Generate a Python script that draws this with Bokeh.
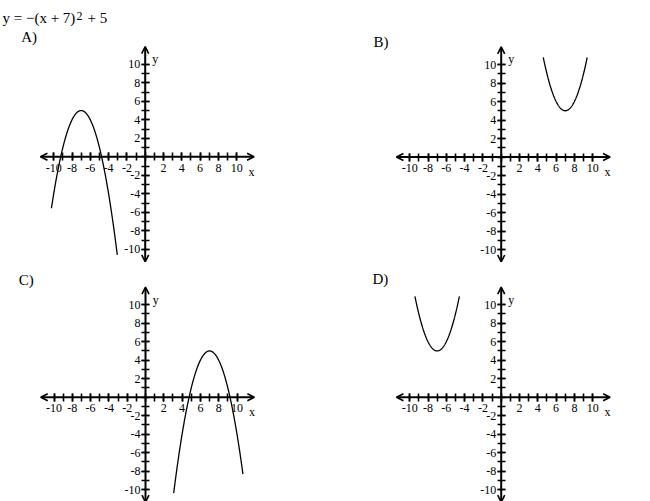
import numpy as np
from bokeh.plotting import figure
from bokeh.models import LinearAxis, FixedTicker, Arrow, OpenHead, Label, Range1d
from bokeh.layouts import column, row
from bokeh.embed import file_html
from bokeh.resources import INLINE

# ---------------- data ----------------
equation_main = "y = −(x + 7)"
equation_sup = "2"
equation_tail = "+ 5"
panel_names = ["A)", "B)", "C)", "D)"]
parabola_a = [-1, 1, -1, 1]          # sign / opening of each parabola
vertex_x = [-7, 7, 7, -7]
vertex_y = [5, 5, 5, 5]
curve_x_from = [-10.25, 4.6, 3.08, -9.43]
curve_x_to = [-3.05, 9.4, 10.65, -4.57]
tick_values = [-10, -8, -6, -4, -2, 2, 4, 6, 8, 10]
tick_labels = ["-10", "-8", "-6", "-4", "-2", "2", "4", "6", "8", "10"]
minor_tick_values = list(range(-10, 11))
axis_x_extent = [-11.45, 11.9]
axis_y_extent = [-11.35, 11.9]
x_axis_name = "x"
y_axis_name = "y"

# ---------------- layout (page pixels) ----------------
SX, SY = 9.15, 9.25
frames = [(0, 0, 356, 262), (356, 0, 650, 262), (0, 262, 356, 501), (356, 262, 650, 501)]
origins = [(144.7, 156.3), (500.7, 156.5), (145.0, 396.7), (500.7, 396.7)]
name_pos = [(20.7, 36.5), (373.0, 41.0), (18.3, 279.0), (372.0, 278.5)]
SERIF = "Liberation Serif"


def make_panel(i):
    L, T, R, B = frames[i]
    ox, oy = origins[i]
    p = figure(width=R - L, height=B - T, title=None,
               x_range=Range1d((L - ox) / SX, (R - ox) / SX),
               y_range=Range1d((oy - B) / SY, (oy - T) / SY),
               output_backend="svg", toolbar_location=None,
               x_axis_type=None, y_axis_type=None, min_border=0)
    p.outline_line_color = None
    p.background_fill_color = "white"
    p.border_fill_color = "white"

    def to_data(px, py):
        return (px - ox) / SX, (oy - py) / SY

    overrides = {v: t for v, t in zip(tick_values, tick_labels)}
    for side in ("below", "left"):
        ax = LinearAxis(fixed_location=0,
                        ticker=FixedTicker(ticks=tick_values, minor_ticks=minor_tick_values),
                        major_label_overrides=overrides)
        ax.axis_line_color = None
        ax.major_tick_line_color = "black"
        ax.minor_tick_line_color = "black"
        ax.major_tick_line_width = 1.6
        ax.minor_tick_line_width = 1.6
        ax.major_tick_in = 4
        ax.major_tick_out = 4
        ax.minor_tick_in = 4
        ax.minor_tick_out = 4
        ax.major_label_text_font = SERIF
        ax.major_label_text_font_size = "12px"
        ax.major_label_text_color = "black"
        ax.major_label_standoff = 3 if side == "below" else 1
        p.add_layout(ax, side)

    p.add_layout(Arrow(start=OpenHead(size=7, line_width=1.6), end=OpenHead(size=7, line_width=1.6),
                       x_start=axis_x_extent[0], y_start=0, x_end=axis_x_extent[1], y_end=0,
                       line_width=2, line_color="black"))
    p.add_layout(Arrow(start=OpenHead(size=7, line_width=1.6), end=OpenHead(size=7, line_width=1.6),
                       x_start=0, y_start=axis_y_extent[0], x_end=0, y_end=axis_y_extent[1],
                       line_width=2, line_color="black"))

    xs = np.linspace(curve_x_from[i], curve_x_to[i], 300)
    ys = parabola_a[i] * (xs - vertex_x[i]) ** 2 + vertex_y[i]
    p.line(xs, ys, line_color="black", line_width=1.3)

    p.add_layout(Label(x=0.78, y=10.55, text=y_axis_name, text_font=SERIF,
                       text_font_size="12px", text_baseline="alphabetic", text_color="black"))
    p.add_layout(Label(x=11.3, y=-1.6, text=x_axis_name, text_font=SERIF,
                       text_font_size="12px", text_baseline="alphabetic", text_color="black"))

    nx, ny = to_data(*name_pos[i])
    p.add_layout(Label(x=nx, y=ny, text=panel_names[i], text_font=SERIF,
                       text_font_size="15px", text_baseline="alphabetic", text_color="black"))

    if i == 0:
        tx, ty = to_data(2, 17)
        p.add_layout(Label(x=tx, y=ty, text=equation_main, text_font=SERIF,
                           text_font_size="15px", text_baseline="alphabetic", text_color="black"))
        sx_, sy_ = to_data(76, 15)
        p.add_layout(Label(x=sx_, y=sy_, text=equation_sup, text_font=SERIF,
                           text_font_size="12px", text_baseline="alphabetic", text_color="black"))
        ex, ey = to_data(87, 17)
        p.add_layout(Label(x=ex, y=ey, text=equation_tail, text_font=SERIF,
                           text_font_size="15px", text_baseline="alphabetic", text_color="black"))
    return p


panels = [make_panel(i) for i in range(4)]
layout = column(row(panels[0], panels[1]), row(panels[2], panels[3]))

open("out.html", "w").write(file_html(layout, INLINE))
